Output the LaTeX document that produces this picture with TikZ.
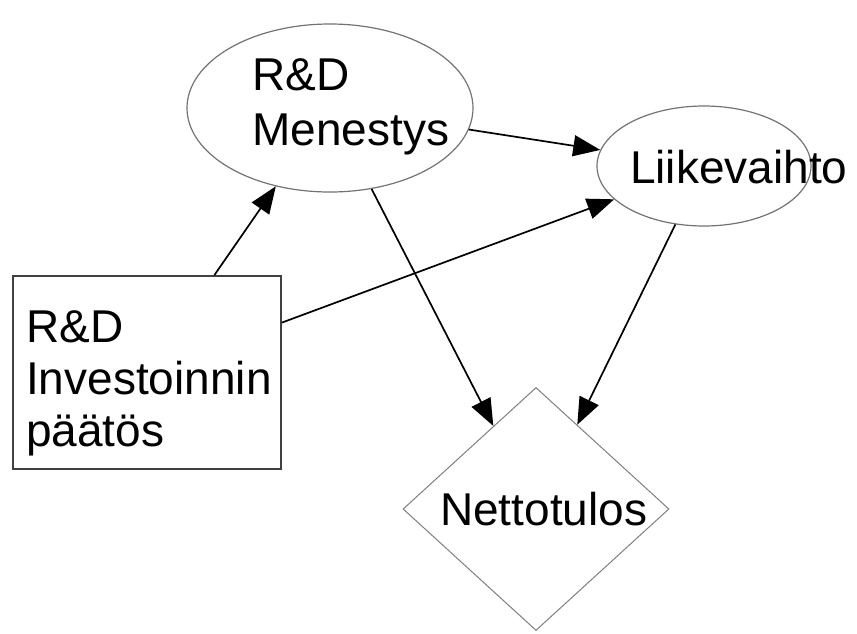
\documentclass[tikz,border=0pt]{standalone}
\usepackage{fontspec}
\setmainfont{Liberation Sans}
\usetikzlibrary{shapes.geometric,arrows.meta}
\begin{document}
\begin{tikzpicture}[x=1pt,y=-1pt,
  lbl/.style={font=\fontsize{46}{55}\selectfont, inner sep=0pt, align=left, anchor=base west},
  ell/.style={ellipse, draw=black!55, line width=1.2pt, inner sep=0pt, fill=white},
  box/.style={rectangle, draw=black!75, line width=1.8pt, inner sep=0pt, fill=white},
  dia/.style={diamond, draw=black!50, line width=1pt, inner sep=0pt, fill=white},
  arr/.style={-{Triangle[length=27pt,width=21pt]}, line width=1.7pt, black}
]
\useasboundingbox[fill=white] (0,0) rectangle (857,633);

% shapes
\node[ell, minimum width=286, minimum height=168] (men) at (330,108) {};
\node[ell, minimum width=214, minimum height=120] (liike) at (704,166) {};
\node[box, minimum width=268, minimum height=193] (inv) at (147,372.5) {};
\node[dia, minimum width=266, minimum height=243] (netto) at (536,509) {};

% labels (base anchor sits on the last line)
\node[lbl] (menT) at (252,145) {R\&D\\Menestys};
\node[lbl] (liikeT) at (630,183) {Liikevaihto};
\node[lbl, font=\fontsize{46}{52}\selectfont] (invT) at (26,446) {R\&D\\Investoinnin\\päätös};
\node[lbl] (nettoT) at (440,525) {Nettotulos};

% influences
\draw[arr] (inv) -- (men);
\draw[arr] (inv) -- (liike);
\draw[arr] (men) -- (liike);
\draw[arr] (men) -- (netto);
\draw[arr] (liike) -- (netto);
\end{tikzpicture}
\end{document}
